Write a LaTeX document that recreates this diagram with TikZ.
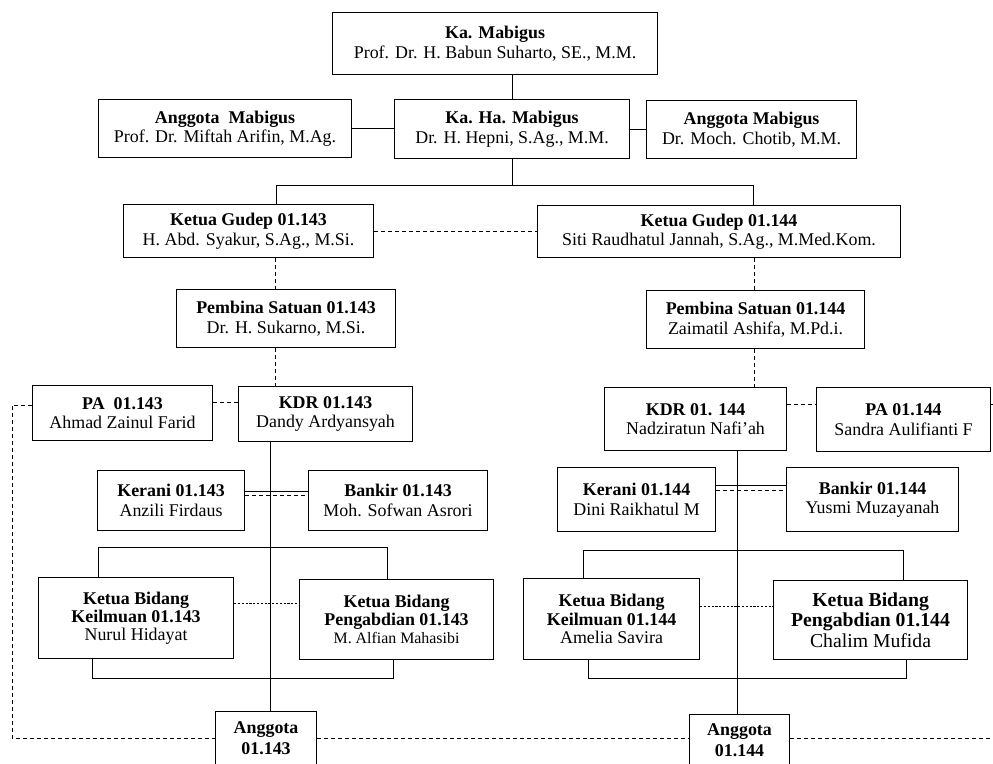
\documentclass[tikz,border=0pt]{standalone}
\usepackage{fontspec}
\setmainfont{Liberation Serif}
\usetikzlibrary{calc}
\newcommand{\fsA}{\fontsize{17.9}{19.5}\selectfont}
\newcommand{\fsD}{\fontsize{17.9}{18.2}\selectfont}
\newcommand{\fsB}{\fontsize{19.7}{20.5}\selectfont}
\newcommand{\fsC}{\fontsize{15.9}{18.2}\selectfont}
\newcommand{\fsE}{\fontsize{17.9}{21}\selectfont}
\tikzset{
  box/.style={draw, line width=1.1pt, inner sep=0pt, align=center, anchor=north west, font=\fsA},
  conn/.style={draw, line width=0.9pt},
  dconn/.style={draw, line width=0.9pt, dash pattern=on 4pt off 3pt},
  fconn/.style={draw, line width=0.8pt, dash pattern=on 2.2pt off 1.6pt},
}
\begin{document}
\begin{tikzpicture}[x=1pt,y=-1pt]
\fill[white] (0,0) rectangle (993,763);
\useasboundingbox (0,0) rectangle (993,763);
\clip (0,0) rectangle (993,763);
% top levels
\node[box, minimum width=325pt, minimum height=62pt] (kam) at (332,12) {\textbf{Ka. Mabigus}\\Prof. Dr. H. Babun Suharto, SE., M.M.};
\node[box, minimum width=253pt, minimum height=58pt] (am1) at (98,99) {\textbf{Anggota\ \ Mabigus}\\Prof. Dr. Miftah Arifin, M.Ag.};
\node[box, minimum width=235pt, minimum height=59pt] (kaha) at (394,99) {\textbf{Ka. Ha. Mabigus}\\Dr. H. Hepni, S.Ag., M.M.};
\node[box, minimum width=210pt, minimum height=58pt] (am2) at (646,100) {\textbf{Anggota Mabigus}\\Dr. Moch. Chotib, M.M.};
\node[box, minimum width=250pt, minimum height=53pt] (g143) at (123,204) {\textbf{Ketua Gudep 01.143}\\H. Abd. Syakur, S.Ag., M.Si.};
\node[box, minimum width=363pt, minimum height=52pt] (g144) at (537,205) {\textbf{Ketua Gudep 01.144}\\Siti Raudhatul Jannah, S.Ag., M.Med.Kom.};
\node[box, minimum width=219pt, minimum height=58pt] (p143) at (176,289) {\textbf{Pembina Satuan 01.143}\\Dr. H. Sukarno, M.Si.};
\node[box, minimum width=218pt, minimum height=58pt] (p144) at (646,290) {\textbf{Pembina Satuan 01.144}\\Zaimatil Ashifa, M.Pd.i.};
% KDR level
\node[box, minimum width=180pt, minimum height=55pt] (pa143) at (32,385) {\textbf{PA\ \ 01.143}\\Ahmad Zainul Farid};
\node[box, minimum width=174pt, minimum height=55pt] (kdr143) at (238,386) {\textbf{KDR 01.143}\\Dandy Ardyansyah};
\node[box, minimum width=182pt, minimum height=63pt] (kdr144) at (604,387) {\textbf{KDR 01. 144}\\Nadziratun Nafi'ah};
\node[box, minimum width=174pt, minimum height=64pt] (pa144) at (816,387) {\textbf{PA 01.144}\\Sandra Aulifianti F};
% Kerani / Bankir
\node[box, minimum width=147pt, minimum height=60pt] (ker143) at (97,470) {\textbf{Kerani 01.143}\\Anzili Firdaus};
\node[box, minimum width=179pt, minimum height=60pt] (bank143) at (308,470) {\textbf{Bankir 01.143}\\Moh. Sofwan Asrori};
\node[box, minimum width=158pt, minimum height=64pt] (ker144) at (557,467) {\textbf{Kerani 01.144}\\Dini Raikhatul M};
\node[box, minimum width=172pt, minimum height=64pt] (bank144) at (786,467) {\textbf{Bankir 01.144}\\Yusmi Muzayanah};
% Bidang
\node[box, minimum width=195pt, minimum height=81pt, font=\fsD] (kei143) at (38,577) {\textbf{Ketua Bidang}\\\textbf{Keilmuan 01.143}\\Nurul Hidayat};
\node[box, minimum width=194pt, minimum height=80pt, font=\fsD] (pen143) at (299,579) {\textbf{Ketua Bidang}\\\textbf{Pengabdian 01.143}\\{\fsC M. Alfian Mahasibi}};
\node[box, minimum width=176pt, minimum height=81pt, font=\fsD] (kei144) at (523,578) {\textbf{Ketua Bidang}\\\textbf{Keilmuan 01.144}\\Amelia Savira};
\node[box, minimum width=194pt, minimum height=79pt, font=\fsB] (pen144) at (773,580) {\textbf{Ketua Bidang}\\\textbf{Pengabdian 01.144}\\Chalim Mufida};
% Anggota (boxes run past the lower edge)
\node[box, minimum width=101pt, minimum height=54pt, font=\fsE] (ang143) at (215,711) {\textbf{Anggota}\\\textbf{01.143}};
\node[box, minimum width=100pt, minimum height=52pt, font=\fsE] (ang144) at (689,714) {\textbf{Anggota}\\\textbf{01.144}};

% helper coordinates
\coordinate (ta) at (276,185);
\coordinate (tb) at (753,185);
\coordinate (vx1) at (275,0);
\coordinate (vx2) at (754,0);
\coordinate (vk1) at (270,0);
\coordinate (vk2) at (737,0);
\coordinate (lx) at (12,0);
\coordinate (rx) at (993,0);
\coordinate (yb) at (0,738);
\coordinate (ypa1) at (0,402);
\coordinate (ypa1b) at (0,405);
\coordinate (ypa2) at (0,404);
\coordinate (ykb1s) at (0,491);
\coordinate (ykb1d) at (0,495);
\coordinate (ykb2s) at (0,485);
\coordinate (ykb2d) at (0,490);
\coordinate (bt1) at (98,547);
\coordinate (bt1r) at (387,547);
\coordinate (bb1) at (92,678);
\coordinate (bb1r) at (393,678);
\coordinate (bt2) at (583,550);
\coordinate (bt2r) at (903,550);
\coordinate (bb2) at (588,678);
\coordinate (bb2r) at (906,678);
\coordinate (yd1) at (0,603);
\coordinate (yd2) at (0,606);

% solid connectors top
\draw[conn] (kaha.north) -- (kaha.north |- kam.south);
\draw[conn] (am1.east) -- (am1.east -| kaha.west);
\draw[conn] (kaha.east) -- (kaha.east -| am2.west);
\draw[conn] (kaha.south) -- (kaha.south |- ta);
\draw[conn] (g143.north -| ta) -- (ta) -- (tb) -- (g144.north -| tb);
% dashed between gudeps
\draw[dconn] (g143.east) -- (g143.east -| g144.west);
% 143 chain
\draw[dconn] (g143.south -| vx1) -- (p143.north -| vx1);
\draw[dconn] (p143.south -| vx1) -- (kdr143.north -| vx1);
\draw[dconn] (pa143.east |- ypa1) -- (kdr143.west |- ypa1);
\draw[dconn] (pa143.west |- ypa1b) -- (lx |- ypa1b) -- (lx |- yb) -- (ang143.west |- yb);
\draw[dconn] (ang143.east |- yb) -- (ang144.west |- yb);
\draw[dconn] (ang144.east |- yb) -- (rx |- yb);
\draw[conn] (kdr143.south -| vk1) -- (ang143.north -| vk1);
\draw[conn] (ker143.east |- ykb1s) -- (bank143.west |- ykb1s);
\draw[dconn] (ker143.east |- ykb1d) -- (bank143.west |- ykb1d);
\draw[conn] (kei143.north -| bt1) -- (bt1) -- (bt1r) -- (pen143.north -| bt1r);
\draw[conn] (kei143.south -| bb1) -- (bb1) -- (bb1r) -- (pen143.south -| bb1r);
\draw[fconn] (kei143.east |- yd1) -- (pen143.west |- yd1);
% 144 chain
\draw[dconn] (g144.south -| vx2) -- (p144.north -| vx2);
\draw[dconn] (p144.south -| vx2) -- (kdr144.north -| vx2);
\draw[dconn] (kdr144.east |- ypa2) -- (pa144.west |- ypa2);
\draw[dconn] (pa144.east |- ypa2) -- (rx |- ypa2);
\draw[conn] (kdr144.south -| vk2) -- (ang144.north -| vk2);
\draw[conn] (ker144.east |- ykb2s) -- (bank144.west |- ykb2s);
\draw[dconn] (ker144.east |- ykb2d) -- (bank144.west |- ykb2d);
\draw[conn] (kei144.north -| bt2) -- (bt2) -- (bt2r) -- (pen144.north -| bt2r);
\draw[conn] (kei144.south -| bb2) -- (bb2) -- (bb2r) -- (pen144.south -| bb2r);
\draw[fconn] (kei144.east |- yd2) -- (pen144.west |- yd2);
\end{tikzpicture}
\end{document}
